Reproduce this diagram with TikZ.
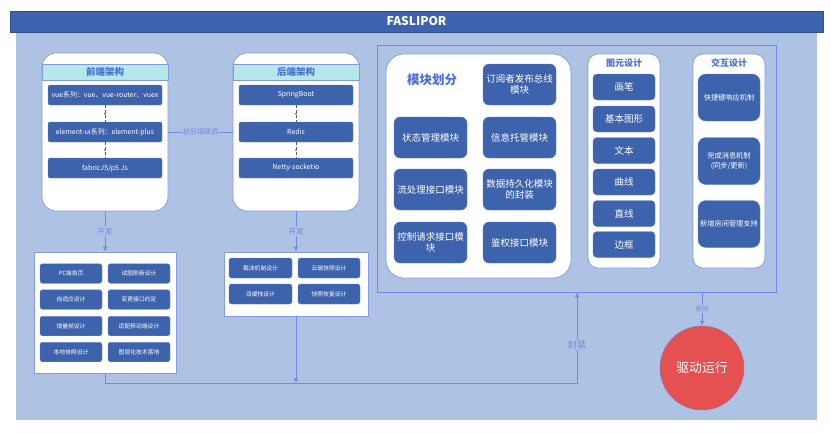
\documentclass[tikz,border=0pt]{standalone}
\usepackage{fontspec}
\setmainfont{Noto Sans CJK SC}
\usetikzlibrary{arrows.meta,calc}
\definecolor{titleblue}{RGB}{61,99,174}
\definecolor{bgblue}{RGB}{174,194,227}
\definecolor{boxblue}{RGB}{62,99,173}
\definecolor{lineblue}{RGB}{108,138,232}
\definecolor{edgeblue}{RGB}{130,155,225}
\definecolor{headcyan}{RGB}{181,233,233}
\definecolor{headtext}{RGB}{74,111,214}
\definecolor{redc}{RGB}{229,80,80}
\begin{document}
\begin{tikzpicture}[x=1pt,y=-1pt,
  wcont/.style={draw=edgeblue, fill=white, line width=0.7pt, inner sep=0pt},
  head/.style={draw=edgeblue, fill=headcyan, line width=0.6pt, minimum width=126pt, minimum height=16pt, inner sep=0pt, text=headtext, font=\fontsize{9.5}{11}\selectfont\bfseries},
  dbox/.style={fill=boxblue, draw=edgeblue!50!boxblue, line width=0.4pt, text=white, align=center, inner sep=1pt},
  fbox/.style={dbox, rounded corners=2pt, minimum width=114pt, minimum height=20pt, font=\fontsize{6.9}{8}\selectfont},
  mbox/.style={dbox, rounded corners=6pt, minimum width=73pt, minimum height=41pt, font=\fontsize{9.5}{11}\selectfont},
  gbox/.style={dbox, rounded corners=4pt, minimum width=62pt, minimum height=26pt, font=\fontsize{9.5}{11}\selectfont},
  ibox/.style={dbox, rounded corners=8pt, minimum width=62pt, minimum height=47pt, font=\fontsize{7.2}{9.5}\selectfont},
  sbox/.style={dbox, rounded corners=2.5pt, minimum width=62pt, minimum height=19.5pt, font=\fontsize{5.8}{7}\selectfont},
  lbl/.style={fill=bgblue, text=lineblue, inner sep=1pt},
  flow/.style={draw=lineblue, line width=0.8pt},
  tip/.style={-{Latex[length=5pt,width=4.5pt]}},
  dcon/.style={draw=gray!70!black, densely dashed, line width=0.5pt},
  ctitle/.style={text=headtext, font=\fontsize{9}{11}\selectfont\bfseries}
]
\useasboundingbox (0,0) rectangle (831,432);
\fill[white] (0,0) rectangle (831,432);
% background
\fill[bgblue] (16,32) rectangle (817,420);
\node[fill=titleblue, draw=titleblue!80!black, minimum width=813pt, minimum height=21pt, inner sep=0pt, text=white, font=\fontsize{12}{14}\selectfont\bfseries] (tb) at (416.5,21.5) {FASLIPOR};

% frontend
\node[wcont, rounded corners=14pt, minimum width=126pt, minimum height=158pt] (fc) at (105,132) {};
\node[head] (fh) at (105,72) {前端架构};
\node[fbox] (f1) at (105,95) {vue系列：vue、vue-router、vuex};
\node[fbox] (f2) at (105,132) {element-ui系列：element-plus};
\node[fbox] (f3) at (105,168) {fabricJS/p5.Js};
\draw[dcon] (f1) -- (f2);
\draw[dcon] (f2) -- (f3);
\draw[-{Latex[length=2pt,width=2pt]}, gray!70!black] ($(f1.south)!0.4!(f2.north)$) -- ($(f1.south)!0.6!(f2.north)$);
\draw[-{Latex[length=2pt,width=2pt]}, gray!70!black] ($(f2.south)!0.4!(f3.north)$) -- ($(f2.south)!0.6!(f3.north)$);

% backend
\node[wcont, rounded corners=14pt, minimum width=126pt, minimum height=158pt] (bc) at (296,132) {};
\node[head] (bh) at (296,72) {后端架构};
\node[fbox] (b1) at (296,95) {SpringBoot};
\node[fbox] (b2) at (296,132) {Redis};
\node[fbox] (b3) at (296,168) {Netty-socketio};
\draw[dcon] (b1) -- (b2);
\draw[dcon] (b2) -- (b3);
\draw[-{Latex[length=2pt,width=2pt]}, gray!70!black] ($(b1.south)!0.4!(b2.north)$) -- ($(b1.south)!0.6!(b2.north)$);
\draw[-{Latex[length=2pt,width=2pt]}, gray!70!black] ($(b2.south)!0.4!(b3.north)$) -- ($(b2.south)!0.6!(b3.north)$);

\draw[flow] (fc) -- node[lbl, font=\fontsize{7}{8}\selectfont] {前后端联调} (bc);

% bottom-left dev box
\node[wcont, draw=edgeblue, minimum width=142pt, minimum height=121pt] (dl) at (105,312.5) {};
\node[sbox] (l1) at (71,273.5) {PC端首页};
\node[sbox] (l2) at (139,273.5) {试图刷新设计};
\node[sbox] (l3) at (71,299.5) {自适应设计};
\node[sbox] (l4) at (139,299.5) {变更接口约定};
\node[sbox] (l5) at (71,326) {增量帧设计};
\node[sbox] (l6) at (139,326) {适配移动端设计};
\node[sbox] (l7) at (71,352) {本地快照设计};
\node[sbox] (l8) at (139,352) {图层化技术落地};

% bottom-mid dev box
\node[wcont, draw=edgeblue, minimum width=144pt, minimum height=64pt] (dm) at (296,284) {};
\node[sbox, minimum width=63pt, minimum height=20pt] (m1) at (260.5,268) {裁决机制设计};
\node[sbox, minimum height=20pt] (m2) at (329,268) {云端快照设计};
\node[sbox, minimum width=63pt, minimum height=20pt] (m3) at (260.5,294) {双缓栈设计};
\node[sbox, minimum height=20pt] (m4) at (329,294) {快照恢复设计};

\draw[flow, tip] (fc) -- node[lbl, font=\fontsize{7.5}{9}\selectfont] {开发} (dl);
\draw[flow, tip] (bc) -- node[lbl, font=\fontsize{7.5}{9}\selectfont] {开发} (dm);

% right outline
\node[draw=lineblue, line width=0.8pt, minimum width=399pt, minimum height=247pt, inner sep=0pt] (mod) at (576.5,168.5) {};

% modules
\node[wcont, rounded corners=18pt, minimum width=185pt, minimum height=224pt] (mc) at (478.5,166) {};
\node[text=headtext, font=\fontsize{12.5}{14}\selectfont\bfseries] (mt) at (432,80) {模块划分};
\node[mbox] (mo1) at (519.5,84.5) {订阅者发布总线\\模块};
\node[mbox] (mo2) at (430.5,137.5) {状态管理模块};
\node[mbox] (mo3) at (519.5,137.5) {信息托管模块};
\node[mbox] (mo4) at (430.5,189.5) {流处理接口模块};
\node[mbox] (mo5) at (519.5,189.5) {数据持久化模块\\的封装};
\node[mbox] (mo6) at (430.5,242.5) {控制请求接口模\\块};
\node[mbox] (mo7) at (519.5,242.5) {鉴权接口模块};

% graphics design
\node[wcont, rounded corners=10pt, minimum width=72pt, minimum height=214pt] (gc) at (624,161) {};
\node[ctitle] (gt) at (624,63) {图元设计};
\node[gbox] (g1) at (624,87) {画笔};
\node[gbox] (g2) at (624,119) {基本图形};
\node[gbox] (g3) at (624,150.5) {文本};
\node[gbox] (g4) at (624,182) {曲线};
\node[gbox] (g5) at (624,213.5) {直线};
\node[gbox] (g6) at (624,244.5) {边框};

% interaction design
\node[wcont, rounded corners=10pt, minimum width=72pt, minimum height=214pt] (ic) at (729,161) {};
\node[ctitle] (it) at (729,63) {交互设计};
\node[ibox] (i1) at (729,97.5) {快捷键响应机制};
\node[ibox] (i2) at (729,161) {完成消息机制\\(同步/更新)};
\node[ibox] (i3) at (729,224) {新增房间管理支持};

% bottom flow
\coordinate (j2) at (577,383);
\draw[flow, tip] (dl.south) |- (j2) -- node[lbl, pos=0.42, font=\fontsize{9.5}{11}\selectfont] {封装} (j2 |- mod.south);
\draw[flow, tip] (dm.south) -- (dm.south |- j2);

% drive
\node[circle, fill=redc, draw=lineblue!70!redc, line width=0.5pt, minimum size=84pt, inner sep=0pt, text=white, font=\fontsize{12.8}{14}\selectfont] (run) at (702,368) {驱动运行};
\draw[flow, tip] (run.north |- mod.south) -- node[lbl, font=\fontsize{6.5}{8}\selectfont] {驱动} (run.north);
\end{tikzpicture}
\end{document}
